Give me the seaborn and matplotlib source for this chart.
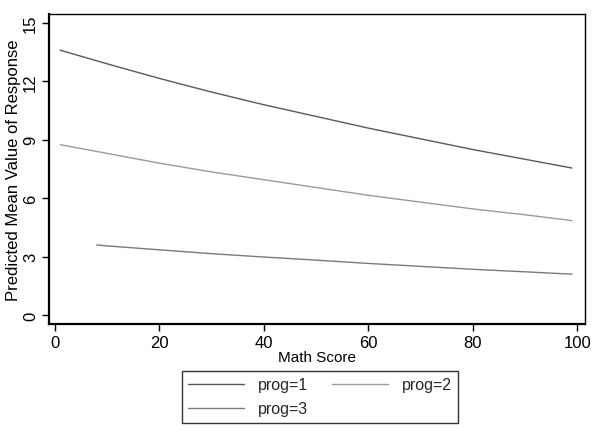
import numpy as np
import pandas as pd
import matplotlib
matplotlib.use("Agg")
import matplotlib.pyplot as plt
import seaborn as sns
from matplotlib.lines import Line2D

# Data
math_p1 = [1, 10, 20, 30, 40, 50, 60, 70, 80, 90, 99]
pred_p1 = [13.6, 12.9, 12.15, 11.45, 10.8, 10.2, 9.6, 9.05, 8.5, 8.0, 7.55]
math_p2 = [1, 10, 20, 30, 40, 50, 60, 70, 80, 90, 99]
pred_p2 = [8.75, 8.3, 7.8, 7.35, 6.95, 6.55, 6.15, 5.8, 5.45, 5.15, 4.85]
math_p3 = [8, 10, 20, 30, 40, 50, 60, 70, 80, 90, 99]
pred_p3 = [3.6, 3.55, 3.35, 3.15, 2.98, 2.82, 2.65, 2.5, 2.35, 2.22, 2.1]
x_ticks = [0, 20, 40, 60, 80, 100]
y_ticks = [0, 3, 6, 9, 12, 15]
labels = ["prog=1", "prog=2", "prog=3"]

df = pd.concat([
    pd.DataFrame({"math": math_p1, "pred": pred_p1, "prog": labels[0]}),
    pd.DataFrame({"math": math_p2, "pred": pred_p2, "prog": labels[1]}),
    pd.DataFrame({"math": math_p3, "pred": pred_p3, "prog": labels[2]}),
])

sns.set_theme(style="white")
plt.rcParams["font.family"] = ["Liberation Sans", "DejaVu Sans"]

fig = plt.figure(figsize=(6, 4.39), dpi=100)
ax = fig.add_axes([49/600, 1 - 325/439, (585 - 49)/600, (325 - 15)/439])

palette = {"prog=1": "#595959", "prog=2": "#9a9a9a", "prog=3": "#7a7a7a"}
sns.lineplot(data=df, x="math", y="pred", hue="prog", palette=palette,
             linewidth=1.0, ax=ax, legend=False, estimator=None)

ax.set_xlim(-1.15, 101.5)
ax.set_ylim(-0.46, 15.46)
ax.set_xticks(x_ticks)
ax.set_yticks(y_ticks)
ax.set_xticklabels([str(t) for t in x_ticks], fontsize=12)
ax.set_yticklabels([str(t) for t in y_ticks], fontsize=12, rotation=90, va="center")
ax.tick_params(axis="both", direction="out", length=5, width=1, color="black",
               labelcolor="black", pad=3, bottom=True, left=True)
ax.set_xlabel("Math Score", fontsize=11, color="black", labelpad=0)
ax.set_ylabel("Predicted Mean Value of Response", fontsize=12, color="black", labelpad=1)
for side in ["top", "right"]:
    ax.spines[side].set_visible(True)
    ax.spines[side].set_color("black")
    ax.spines[side].set_linewidth(1.0)
for side in ["left", "bottom"]:
    ax.spines[side].set_color("black")
    ax.spines[side].set_linewidth(1.6)

handles = {l: Line2D([], [], color=palette[l], linewidth=1.0) for l in labels}
order = ["prog=1", "prog=3", "prog=2"]
leg = fig.legend([handles[l] for l in order], order, loc="upper center",
                 bbox_to_anchor=(320/600, 1 - 372/439), ncol=2, frameon=True,
                 fancybox=False, edgecolor="black", fontsize=11.5,
                 handlelength=3.5, columnspacing=1.5, handletextpad=0.85,
                 labelspacing=0.55, borderpad=0.4, borderaxespad=0)
leg.get_frame().set_linewidth(1.0)

fig.savefig("out.png", dpi=100, facecolor="white")
